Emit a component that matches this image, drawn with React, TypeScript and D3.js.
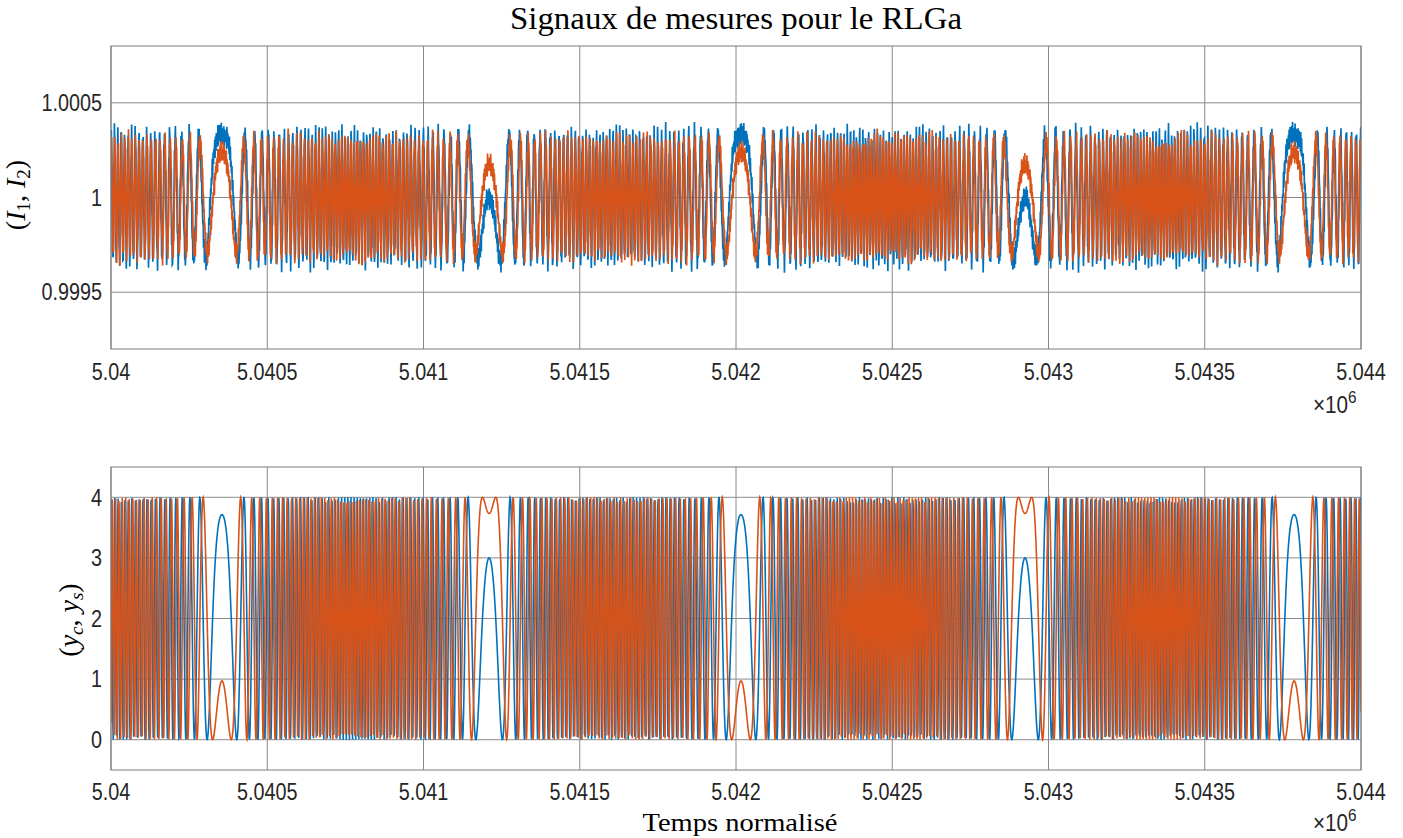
import React, { useMemo } from "react";
import * as d3 from "d3";

// ---------- data ----------
const xTicks = [5.04, 5.0405, 5.041, 5.0415, 5.042, 5.0425, 5.043, 5.0435, 5.044];
const xTickLabels = ["5.04", "5.0405", "5.041", "5.0415", "5.042", "5.0425", "5.043", "5.0435", "5.044"];
const topYTicks = [0.9995, 1, 1.0005];
const topYTickLabels = ["0.9995", "1", "1.0005"];
const botYTicks = [0, 1, 2, 3, 4];
const botYTickLabels = ["0", "1", "2", "3", "4"];

// normalized time: 5.04e6 + sample, one sample per unit
const sampleCount = 4001;
// dither turnaround instants (sample offsets) and the phase reached there (deg, mod 360)
const turnSamples = [-493, 355, 1210, 2016, 2925, 3786, 4640];
const turnPhaseDeg = [60, -31, 60, -31, 60, -31, 60];
// number of fringes swept between consecutive turnarounds
const segmentCycles = [54, 55, 49, 62, 56, 55];
// measured intensities I1, I2
const intensityAmp = [0.00033, 0.0003];
const intensityPhaseDeg = [30, -6];
const intensityNoise = [0.00007, 0.000065];
// quadrature outputs yc, ys
const quadMean = [2, 2];
const quadAmp = [2, 2];

const colors = ["#0072BD", "#D95319"];

const W = 1403;
const H = 838;
const PL = 111, PR = 1361;
const TOP = { y0: 46, y1: 349 };
const BOT = { y0: 467, y1: 770 };

function buildPhase(): number[] {
  const rad = Math.PI / 180;
  const p: number[] = [turnPhaseDeg[0]];
  for (let i = 0; i < segmentCycles.length; i++) {
    const dir = turnPhaseDeg[i + 1] === -31 ? 1 : -1; // into a maximum: rising
    const raw = p[i] + dir * 360 * segmentCycles[i];
    const target = turnPhaseDeg[i + 1];
    const diff = ((((target - raw) % 360) + 540) % 360) - 180;
    p.push(raw + diff);
  }
  const out: number[] = [];
  for (let k = 0; k < sampleCount; k++) {
    let j = 0;
    while (j < turnSamples.length - 2 && k >= turnSamples[j + 1]) j++;
    const s = (k - turnSamples[j]) / (turnSamples[j + 1] - turnSamples[j]);
    const ph = p[j] + (p[j + 1] - p[j]) * (1 - Math.cos(Math.PI * s)) / 2;
    out.push(ph * rad);
  }
  return out;
}

export default function App() {
  const x = d3.scaleLinear().domain([5.04, 5.044]).range([PL, PR]);
  const yTop = d3.scaleLinear().domain([0.9992, 1.0008]).range([TOP.y1, TOP.y0]);
  const yBot = d3.scaleLinear().domain([-0.5, 4.5]).range([BOT.y1, BOT.y0]);

  const series = useMemo(() => {
    const phi = buildPhase();
    const rad = Math.PI / 180;
    const t = phi.map((_, k) => 5.04 + k * 1e-6);
    const I = [0, 1].map((c) =>
      phi.map((ph, k) => {
        const n = c === 0
          ? 0.7 * Math.sin(2.39 * k + 0.3) + 0.3 * Math.sin(1.71 * k + 1.1)
          : 0.7 * Math.sin(2.57 * k + 2.1) + 0.3 * Math.sin(1.93 * k + 0.4);
        return 1 + intensityAmp[c] * Math.cos(ph + intensityPhaseDeg[c] * rad) + intensityNoise[c] * n;
      })
    );
    const Y = [
      phi.map((ph) => quadMean[0] + quadAmp[0] * Math.cos(ph)),
      phi.map((ph) => quadMean[1] + quadAmp[1] * Math.sin(ph)),
    ];
    return { t, I, Y };
  }, []);

  const lineTop = (vals: number[]) =>
    d3.line<number>().x((_, i) => x(series.t[i])).y((v) => yTop(v))(vals) || "";
  const lineBot = (vals: number[]) =>
    d3.line<number>().x((_, i) => x(series.t[i])).y((v) => yBot(v))(vals) || "";

  const tickFont = { fontFamily: "'Liberation Sans', Arial, sans-serif", fontSize: 23, fill: "#262626" };
  const serif = "'Liberation Serif', 'Times New Roman', serif";
  const gridColor = "#8a8a8a";
  const boxColor = "#7a7a7a";

  const axes = (y0: number, y1: number, yScale: any, yT: number[], yL: string[], clipId: string, paths: React.ReactNode, tickBase: number, expBase: number) => (
    <g>
      <defs>
        <clipPath id={clipId}>
          <rect x={PL} y={y0} width={PR - PL} height={y1 - y0} />
        </clipPath>
      </defs>
      <rect x={PL} y={y0} width={PR - PL} height={y1 - y0} fill="#fff" />
      {xTicks.map((v, i) => (
        <line key={"gx" + i} x1={x(v)} x2={x(v)} y1={y0} y2={y1} stroke={gridColor} strokeWidth={1} />
      ))}
      {yT.map((v, i) => (
        <line key={"gy" + i} x1={PL} x2={PR} y1={yScale(v)} y2={yScale(v)} stroke={gridColor} strokeWidth={1} />
      ))}
      <g clipPath={`url(#${clipId})`}>{paths}</g>
      <rect x={PL} y={y0} width={PR - PL} height={y1 - y0} fill="none" stroke={boxColor} strokeWidth={1} />
      {xTicks.map((v, i) => (
        <text key={"tx" + i} transform={`translate(${x(v)},${tickBase}) scale(0.86,1)`} textAnchor="middle" {...tickFont}>
          {xTickLabels[i]}
        </text>
      ))}
      {yT.map((v, i) => (
        <text key={"ty" + i} transform={`translate(${PL - 9},${yScale(v) + 8.3}) scale(0.86,1)`} textAnchor="end" {...tickFont}>
          {yL[i]}
        </text>
      ))}
      <text transform={`translate(1313,${expBase}) scale(0.9,1)`} {...tickFont}>
        ×10<tspan fontSize={17} dy={-10}>6</tspan>
      </text>
    </g>
  );

  return (
    <svg width={W} height={H} style={{ position: "absolute", left: 0, top: 0, background: "#fff" }}>
      <rect x={0} y={0} width={W} height={H} fill="#fff" />
      {axes(TOP.y0, TOP.y1, yTop, topYTicks, topYTickLabels, "clipTop",
        <>
          <path d={lineTop(series.I[0])} fill="none" stroke={colors[0]} strokeWidth={1.7} />
          <path d={lineTop(series.I[1])} fill="none" stroke={colors[1]} strokeWidth={1.7} />
        </>, 380, 413)}
      {axes(BOT.y0, BOT.y1, yBot, botYTicks, botYTickLabels, "clipBot",
        <>
          <path d={lineBot(series.Y[0])} fill="none" stroke={colors[0]} strokeWidth={1.6} />
          <path d={lineBot(series.Y[1])} fill="none" stroke={colors[1]} strokeWidth={1.6} />
        </>, 800, 831)}

      <text x={736} y={29} textAnchor="middle" fontFamily={serif} fontSize={32} fill="#000" textLength={452} lengthAdjust="spacingAndGlyphs">
        Signaux de mesures pour le RLGa
      </text>
      <text x={740} y={831} textAnchor="middle" fontFamily={serif} fontSize={26} fill="#000" textLength={195} lengthAdjust="spacingAndGlyphs">
        Temps normalisé
      </text>
      <text transform="translate(25,195) rotate(-90)" textAnchor="middle" fontFamily={serif} fontSize={28} fill="#000">
        (<tspan fontStyle="italic">I</tspan><tspan fontSize={19} dy={5}>1</tspan><tspan dy={-5}>, </tspan><tspan fontStyle="italic">I</tspan><tspan fontSize={19} dy={5}>2</tspan><tspan dy={-5}>)</tspan>
      </text>
      <text transform="translate(78,620) rotate(-90)" textAnchor="middle" fontFamily={serif} fontSize={28} fill="#000">
        (<tspan fontStyle="italic">y</tspan><tspan fontSize={19} fontStyle="italic" dy={5}>c</tspan><tspan dy={-5}>, </tspan><tspan fontStyle="italic">y</tspan><tspan fontSize={19} fontStyle="italic" dy={5}>s</tspan><tspan dy={-5}>)</tspan>
      </text>
    </svg>
  );
}
